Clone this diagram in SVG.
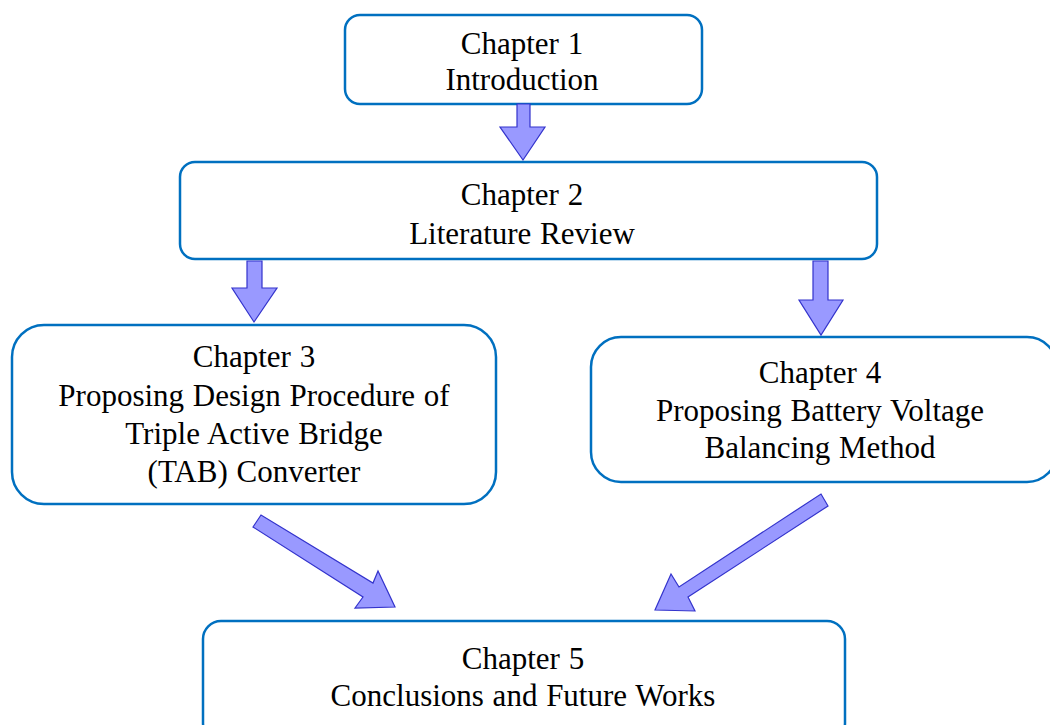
<svg xmlns="http://www.w3.org/2000/svg" width="1050" height="725" viewBox="0 0 1050 725">
<style>
.box{fill:#fff;stroke:#0070C0;stroke-width:2.5}
.arr{fill:#9999FF;stroke:#3333CC;stroke-width:1.2;stroke-linejoin:miter}
text{font-family:"Liberation Serif","Times New Roman",serif;font-size:31px;fill:#000;text-anchor:middle;word-spacing:1px}
</style>
<rect width="1050" height="725" fill="#fff"/>
<g id="node1"><rect class="box" x="345" y="15" width="357" height="89" rx="15"/>
<text x="522" y="54">Chapter 1</text><text x="522" y="90">Introduction</text></g>
<g id="node2"><rect class="box" x="180" y="162" width="697" height="97" rx="15"/>
<text x="522" y="205">Chapter 2</text><text x="522" y="244">Literature Review</text></g>
<g id="node3"><rect class="box" x="12" y="325" width="484" height="179" rx="32"/>
<text x="254" y="367">Chapter 3</text><text x="254" y="406">Proposing Design Procedure of</text><text x="254" y="444">Triple Active Bridge</text><text x="254" y="482">(TAB) Converter</text></g>
<g id="node4"><rect class="box" x="591" y="337" width="466" height="145" rx="30"/>
<text x="820" y="383">Chapter 4</text><text x="820" y="421">Proposing Battery Voltage</text><text x="820" y="458">Balancing Method</text></g>
<g id="node5"><rect class="box" x="203" y="621" width="642" height="120" rx="18"/>
<text x="523" y="669">Chapter 5</text><text x="523" y="706">Conclusions and Future Works</text></g>
<g id="connectors">
<polygon class="arr" points="517,104 530,104 530,127 545,127 523,160 500,127 517,127"/>
<polygon class="arr" points="247,261 262,261 262,288 277,288 254,322 232,288 247,288"/>
<polygon class="arr" points="813,261 828,261 828,300 843,300 821,335 799,300 813,300"/>
<polygon class="arr" points="261,515 253,527 363,597 355,608 395,607 378,571 373,583"/>
<polygon class="arr" points="828,506 821,494 679,587 671,574 655,610 695,611 688,597"/>
</g>
</svg>
